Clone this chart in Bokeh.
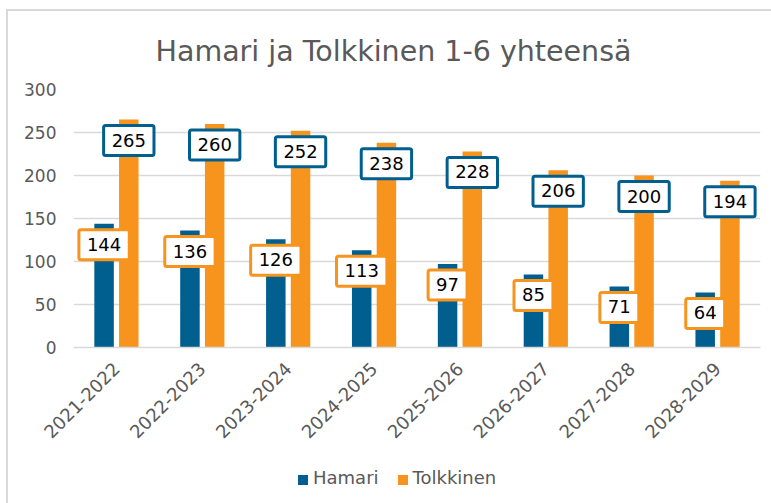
from math import pi
from bokeh.plotting import figure
from bokeh.layouts import column
from bokeh.models import ColumnDataSource, FixedTicker, Div
from bokeh.core.properties import value
from bokeh.transform import dodge
from bokeh.embed import file_html
from bokeh.resources import INLINE

categories = ["2021-2022", "2022-2023", "2023-2024", "2024-2025",
              "2025-2026", "2026-2027", "2027-2028", "2028-2029"]
hamari = [144, 136, 126, 113, 97, 85, 71, 64]
tolkkinen = [265, 260, 252, 238, 228, 206, 200, 194]
series_names = ["Hamari", "Tolkkinen"]
y_ticks = [0, 50, 100, 150, 200, 250, 300]
title_text = "Hamari ja Tolkkinen 1-6 yhteensä"

BLUE = "#005F8F"
ORANGE = "#F7941D"
GRID = "#D9D9D9"
TXT = "#595959"
FONT = "DejaVu Sans"

src = ColumnDataSource(dict(
    cat=categories,
    hamari=hamari,
    tolkkinen=tolkkinen,
    hamari_lbl=[str(v) for v in hamari],
    tolkkinen_lbl=[str(v) for v in tolkkinen],
))

p = figure(x_range=categories, y_range=(0, 300), width=763, height=452,
           output_backend="svg", toolbar_location=None,
           min_border_left=65, min_border_right=11,
           min_border_top=75, min_border_bottom=116)
p.outline_line_color = None
p.background_fill_color = "white"
p.border_fill_color = "white"

p.title.text = title_text
p.title.text_font = FONT
p.title.text_font_size = "28.5px"
p.title.text_font_style = "normal"
p.title.text_color = TXT
p.title.align = "left"
p.title.offset = 82
p.title.standoff = 43

off = 0.144
bw = 0.227
r1 = p.vbar(x=dodge("cat", -off, range=p.x_range), top="hamari", width=bw,
            source=src, fill_color=BLUE, line_color=None)
r2 = p.vbar(x=dodge("cat", off, range=p.x_range), top="tolkkinen", width=bw,
            source=src, fill_color=ORANGE, line_color=None)

common = dict(source=src, text_font=value(FONT), text_font_size=value("18px"),
              text_color="black", text_align="center", text_baseline="top",
              y_offset=6, background_fill_color="white",
              border_line_width=3,
              padding=dict(left=8, right=8, top=8, bottom=9),
              border_radius=2)
p.text(x=dodge("cat", -off, range=p.x_range), y="hamari",
       text="hamari_lbl", border_line_color=ORANGE, **common)
p.text(x=dodge("cat", off, range=p.x_range), y="tolkkinen",
       text="tolkkinen_lbl", border_line_color=BLUE, **common)

p.xgrid.grid_line_color = None
p.ygrid.grid_line_color = GRID
p.ygrid.grid_line_width = 1.5
p.yaxis.ticker = FixedTicker(ticks=y_ticks)

p.yaxis.axis_line_color = None
p.yaxis.major_tick_line_color = None
p.yaxis.minor_tick_line_color = None
p.yaxis.major_tick_out = 0
p.yaxis.major_label_standoff = 17
p.yaxis.major_label_text_font = FONT
p.yaxis.major_label_text_font_size = "17px"
p.yaxis.major_label_text_color = TXT

p.xaxis.axis_line_color = GRID
p.xaxis.axis_line_width = 1.5
p.xaxis.major_tick_line_color = None
p.xaxis.minor_tick_line_color = None
p.xaxis.major_tick_out = 0
p.xaxis.major_label_orientation = pi / 4
p.xaxis.major_label_standoff = 18
p.xaxis.major_label_text_font = FONT
p.xaxis.major_label_text_font_size = "18px"
p.xaxis.major_label_text_color = TXT

sq = ("<span style='display:inline-block;width:10px;height:10px;"
      "background:{c};margin-right:5px;margin-left:{m}px;"
      "vertical-align:-1px'></span>{t}")
legend_html = (sq.format(c=BLUE, m=0, t=series_names[0]) +
               sq.format(c=ORANGE, m=19, t=series_names[1]))
legend = Div(text=legend_html, width=763, height=40,
             styles={"font-family": FONT, "font-size": "18px",
                     "color": TXT, "line-height": "20px",
                     "padding-left": "285px", "white-space": "nowrap"})

layout = column(p, legend, spacing=0,
                styles={"border-left": "2px solid #D9D9D9",
                        "border-top": "2px solid #D9D9D9",
                        "margin-left": "6px", "margin-top": "9px"})

open("out.html", "w").write(file_html(layout, INLINE))
